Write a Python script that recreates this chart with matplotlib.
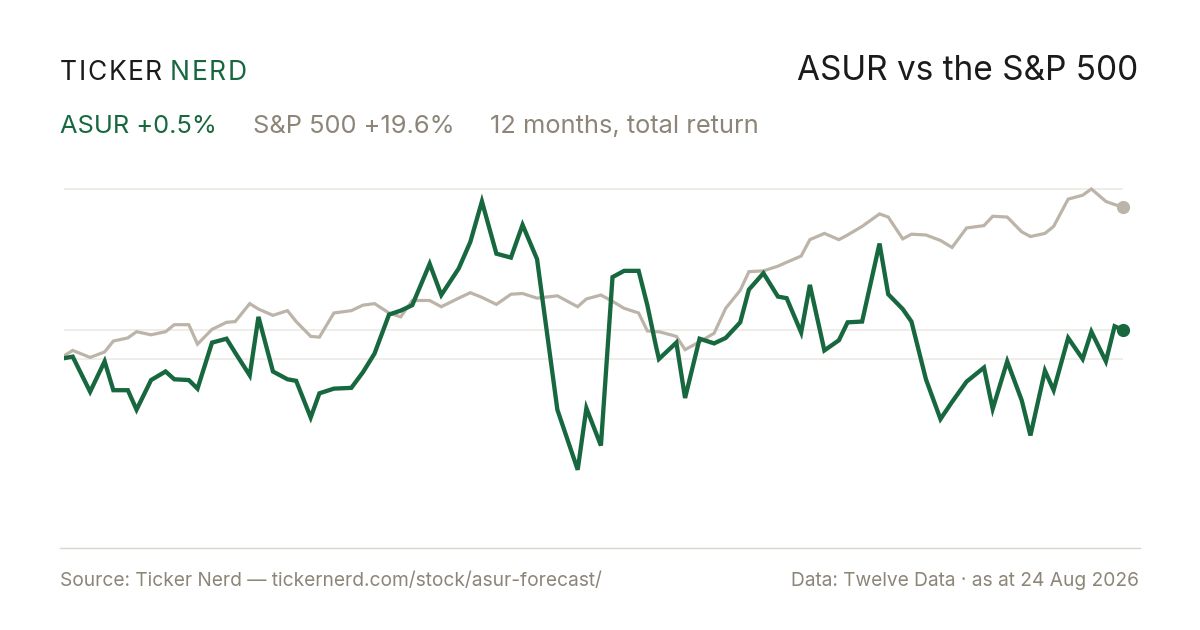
import matplotlib
matplotlib.use("Agg")
import matplotlib.pyplot as plt
from matplotlib.lines import Line2D

plt.rcParams['font.family'] = ['Inter', 'DejaVu Sans']

# days since start of the 12-month window
days = [0, 3, 9, 14, 17, 22, 25, 30, 35, 38, 43, 46, 51, 56, 59, 64, 67, 72, 77, 80,
        85, 88, 93, 99, 103, 107, 112, 116, 120, 126, 130, 136, 140, 144, 149, 154,
        158, 163, 170, 177, 180, 185, 189, 193, 198, 201, 204, 205, 211, 214, 219,
        224, 228, 233, 236, 241, 246, 249, 254, 257, 262, 267, 270, 275, 281, 284,
        289, 292, 297, 302, 306, 311, 317, 320, 325, 330, 333, 338, 341, 346, 351,
        354, 359, 362, 365]

# cumulative return, %
asur = [0.1, 0.3, -4.2, -0.3, -4.0, -4.0, -6.5, -2.7, -1.6, -2.6, -2.7, -3.8, 2.1,
        2.6, 0.8, -2.1, 5.4, -1.6, -2.6, -2.8, -7.5, -4.4, -3.8, -3.7, -1.7, 0.7,
        5.7, 6.2, 6.9, 12.2, 8.2, 11.6, 15.0, 20.2, 13.5, 13.0, 17.2, 12.8, -6.5,
        -14.2, -6.3, -11.1, 10.5, 11.3, 11.3, 6.9, 1.6, 0.0, 2.1, -5.0, 2.6, 2.0,
        2.7, 4.7, 8.9, 11.0, 8.0, 7.8, 3.4, 9.5, 1.1, 2.4, 4.7, 4.8, 14.8, 8.3,
        6.4, 4.8, -2.6, -7.7, -5.5, -2.9, -1.1, -6.4, -0.3, -5.3, -9.8, -1.5,
        -4.0, 2.7, 0.0, 3.5, -0.3, 4.2, 3.7]

spx = [0.4, 1.1, 0.2, 0.9, 2.3, 2.7, 3.5, 3.1, 3.5, 4.4, 4.4, 1.9, 3.8, 4.7, 4.8,
       7.1, 6.4, 5.6, 6.2, 4.8, 2.9, 2.8, 5.9, 6.2, 6.9, 7.1, 5.9, 5.4, 7.5, 7.5,
       6.7, 7.8, 8.5, 7.9, 7.0, 8.3, 8.4, 7.8, 8.1, 6.7, 7.7, 8.2, 7.4, 6.5, 5.9,
       3.6, 3.5, 3.5, 2.9, 1.2, 2.2, 3.3, 6.5, 8.8, 11.2, 11.3, 11.9, 12.4, 13.2,
       15.3, 16.1, 15.3, 15.9, 17.0, 18.6, 18.2, 15.4, 16.0, 15.9, 15.2, 14.3,
       16.8, 17.1, 18.3, 18.2, 16.3, 15.7, 16.1, 17.0, 20.5, 21.0, 21.8, 20.2,
       19.8, 19.5]

GREEN = '#17683f'
SAND = '#bcb4a8'
MUTED = '#8c8578'
INK = '#1b1b1b'

W, H = 1200, 630
fig = plt.figure(figsize=(W / 100, H / 100), dpi=100)
fig.patch.set_facecolor('white')


def px(x, y):
    return x / W, 1 - y / H


def spaced_text(x, y, s, gap, **kw):
    # draw letter by letter to get the wide tracking of the wordmark
    r = fig.canvas.get_renderer()
    for ch in s:
        t = fig.text(*px(x, y), ch, va='baseline', **kw)
        x += t.get_window_extent(r).width + gap
    return x


ax = fig.add_axes([64 / W, 82 / H, 1059.3 / W, 378 / H])
ax.set_xlim(0, 365)
ax.set_ylim(-24.23, 24.23)
ax.axis('off')

# reference lines: start level, where ASUR ends, S&P high
for level in [0, asur[-1], max(spx)]:
    ax.axhline(level, color='#ebe8e2', lw=1.1, zorder=1)

ax.plot(days, spx, color=SAND, lw=2.3, solid_joinstyle='miter', zorder=2)
ax.plot(days, asur, color=GREEN, lw=3.1, solid_joinstyle='miter', zorder=3)
ax.plot(days[-1], spx[-1], 'o', color=SAND, ms=8.5, clip_on=False, zorder=4)
ax.plot(days[-1], asur[-1], 'o', color=GREEN, ms=8.5, clip_on=False, zorder=4)

# bottom rule
fig.add_artist(Line2D([60 / W, 1140 / W], [1 - 548 / H] * 2, color='#d9d5cc', lw=1.0))

# header
spaced_text(60, 80, 'TICKER', 1.6, color=INK, fontsize=19)
spaced_text(170, 80, 'NERD', 1.6, color=GREEN, fontsize=19)
fig.text(*px(1138, 80), 'ASUR vs the S&P 500', color=INK, fontsize=24,
         ha='right', va='baseline')

fig.text(*px(60, 133), 'ASUR +0.5%', color=GREEN, fontsize=18.3, va='baseline')
fig.text(*px(253, 133), 'S&P 500 +19.6%', color=MUTED, fontsize=18.3, va='baseline')
fig.text(*px(490, 133), '12 months, total return', color=MUTED, fontsize=18.3,
         va='baseline')

# footer
fig.text(*px(60, 586), 'Source: Ticker Nerd \u2014 tickernerd.com/stock/asur-forecast/',
         color=MUTED, fontsize=13.8, va='baseline')
fig.text(*px(1139, 586), 'Data: Twelve Data \u00b7 as at 24 Aug 2026',
         color=MUTED, fontsize=13.8, ha='right', va='baseline')

fig.savefig('out.png', dpi=100, facecolor='white')
